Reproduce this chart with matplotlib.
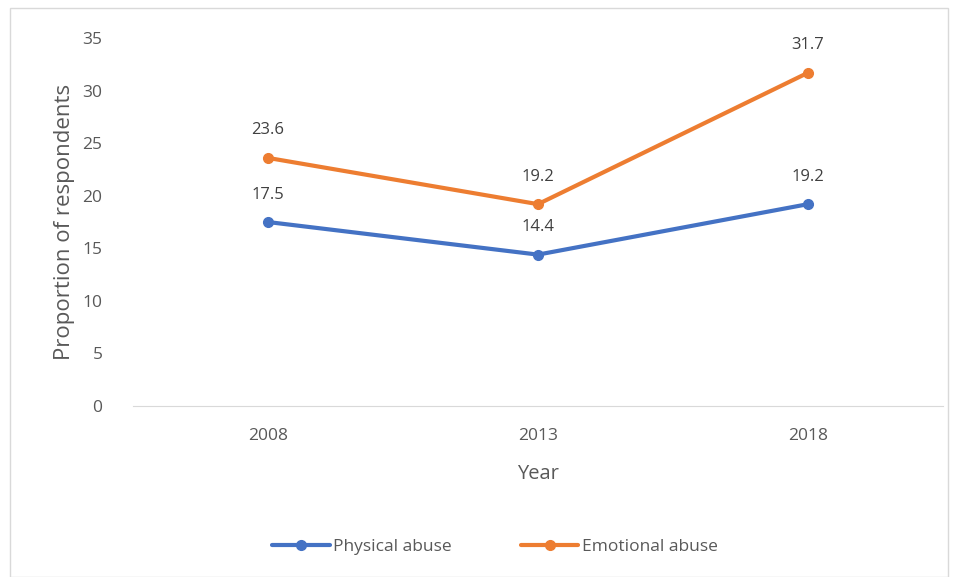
import matplotlib
matplotlib.use("Agg")
from matplotlib import pyplot as plt
from matplotlib.patches import Rectangle

years = ["2008", "2013", "2018"]
physical = [17.5, 14.4, 19.2]
emotional = [23.6, 19.2, 31.7]
series_names = ["Physical abuse", "Emotional abuse"]
y_ticks = [0, 5, 10, 15, 20, 25, 30, 35]

plt.rcParams["font.family"] = ["Open Sans", "DejaVu Sans"]
grey = "#595959"

fig = plt.figure(figsize=(9.58, 5.77), dpi=100)
ax = fig.add_axes([0.1388, 0.2964, 0.8455, 0.6376])

# light frame round the whole chart
fig.patches.append(Rectangle((10 / 958, 0.0), 938 / 958, 1 - 8 / 577, transform=fig.transFigure,
                             fill=False, edgecolor="#d9d9d9", linewidth=1))

x = range(len(years))
ax.plot(x, physical, color="#4472C4", lw=3, marker="o", ms=7, label=series_names[0], solid_capstyle="round")
ax.plot(x, emotional, color="#ED7D31", lw=3, marker="o", ms=7, label=series_names[1], solid_capstyle="round")

for i in x:
    ax.annotate(f"{physical[i]}", (i, physical[i]), xytext=(0, 14), textcoords="offset points",
                ha="center", va="bottom", fontsize=12, color="#404040")
    ax.annotate(f"{emotional[i]}", (i, emotional[i]), xytext=(0, 14), textcoords="offset points",
                ha="center", va="bottom", fontsize=12, color="#404040")

ax.set_xlim(-0.5, 2.5)
ax.set_ylim(0, 35)
ax.set_yticks(y_ticks)
ax.set_xticks(list(x))
ax.set_xticklabels(years)
ax.tick_params(length=0, labelsize=12.5, labelcolor=grey)
ax.tick_params(axis="y", pad=22)
ax.tick_params(axis="x", pad=16)
for s in ["top", "right", "left"]:
    ax.spines[s].set_visible(False)
ax.spines["bottom"].set_color("#d9d9d9")

ax.set_xlabel("Year", fontsize=14.5, color=grey, labelpad=14)
ax.set_ylabel("Proportion of respondents", fontsize=16, color=grey, labelpad=5)

ax.legend(loc="center", bbox_to_anchor=(495 / 958, 1 - 547 / 577), bbox_transform=fig.transFigure,
          ncol=2, frameon=False, fontsize=12.5, labelcolor=grey, handlelength=3.3, handletextpad=0.2,
          columnspacing=4)

fig.savefig("out.png", dpi=100)
